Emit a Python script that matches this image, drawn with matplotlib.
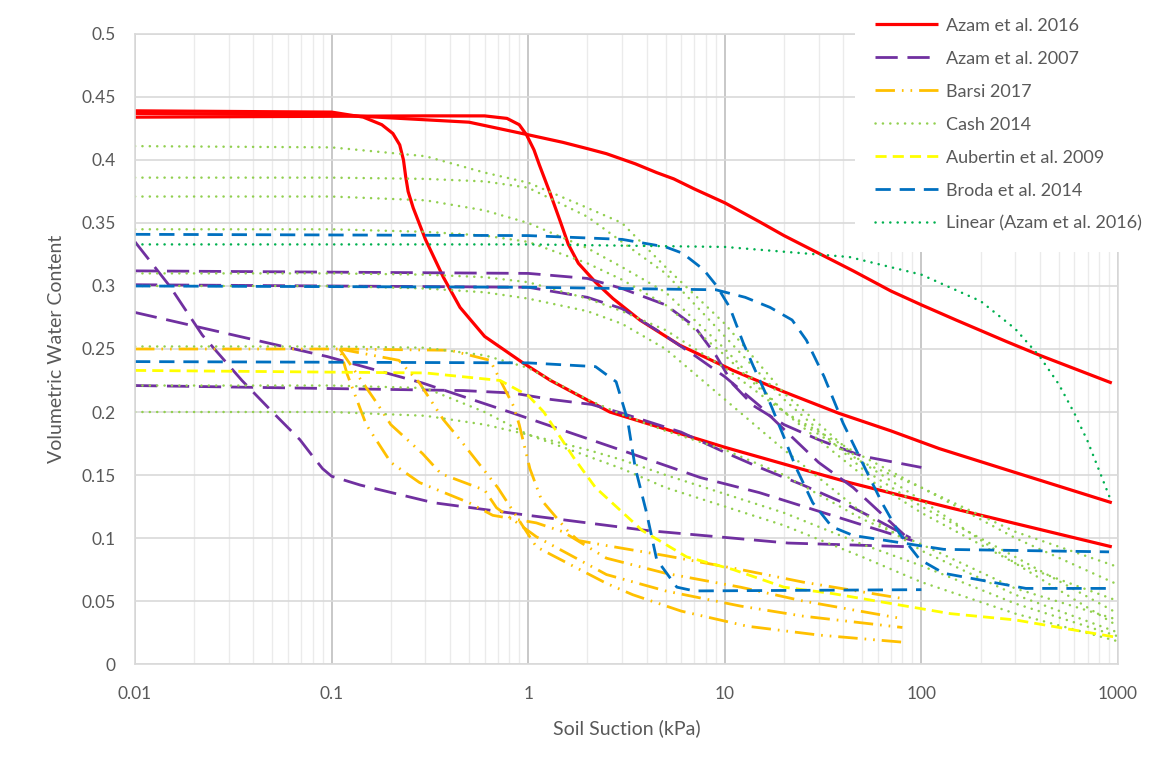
import matplotlib
matplotlib.use('Agg')
import matplotlib.pyplot as plt
from matplotlib.patches import Rectangle
from matplotlib.ticker import LogLocator, NullFormatter, FixedLocator

plt.rcParams['font.family'] = ['Lato', 'DejaVu Sans']

# ---- data (suction kPa, volumetric water content) ----
# Azam et al. 2016
az16_a_x = [0.01, 0.1, 0.145, 0.18, 0.205, 0.222, 0.232, 0.238, 0.245, 0.26, 0.3, 0.37, 0.45, 0.6, 0.94, 1.3, 2.6, 10, 43, 140, 930]
az16_a_y = [0.439, 0.438, 0.434, 0.428, 0.421, 0.412, 0.4, 0.387, 0.375, 0.362, 0.337, 0.307, 0.283, 0.26, 0.239, 0.225, 0.2, 0.172, 0.144, 0.124, 0.093]
az16_b_x = [0.01, 0.3, 0.6, 0.78, 0.9, 0.98, 1.07, 1.14, 1.29, 1.45, 1.6, 1.8, 2.2, 2.7, 3.7, 5.9, 11, 20, 38, 70, 123, 300, 930]
az16_b_y = [0.434, 0.435, 0.435, 0.433, 0.428, 0.42, 0.408, 0.396, 0.374, 0.352, 0.333, 0.318, 0.303, 0.29, 0.273, 0.253, 0.233, 0.216, 0.199, 0.185, 0.171, 0.152, 0.128]
az16_c_x = [0.01, 0.1, 0.5, 1, 1.5, 2, 2.5, 3.5, 4.5, 5.5, 7, 10, 15, 20, 30, 45, 70, 100, 150, 270, 400, 930]
az16_c_y = [0.437, 0.436, 0.43, 0.42, 0.414, 0.409, 0.405, 0.397, 0.39, 0.385, 0.377, 0.366, 0.351, 0.34, 0.326, 0.312, 0.296, 0.285, 0.273, 0.256, 0.245, 0.223]

# Azam et al. 2007
az07_a_x = [0.01, 0.015, 0.022, 0.035, 0.05, 0.069, 0.08, 0.09, 0.1, 0.14, 0.33, 1, 4, 21, 90]
az07_a_y = [0.335, 0.3, 0.261, 0.225, 0.2, 0.178, 0.165, 0.155, 0.149, 0.142, 0.128, 0.118, 0.106, 0.096, 0.093]
az07_b_x = [0.01, 1, 2, 3, 5, 7, 9, 11, 14, 20, 30, 50, 100]
az07_b_y = [0.312, 0.31, 0.306, 0.298, 0.285, 0.268, 0.245, 0.222, 0.205, 0.19, 0.178, 0.165, 0.156]
az07_c_x = [0.01, 1, 2, 3, 4.5, 7, 10, 15, 22, 30, 45, 60, 85]
az07_c_y = [0.301, 0.299, 0.291, 0.282, 0.265, 0.245, 0.228, 0.205, 0.18, 0.16, 0.14, 0.122, 0.1]
az07_d_x = [0.01, 0.095, 0.29, 0.84, 3.2, 7.5, 15, 35, 56, 90]
az07_d_y = [0.279, 0.244, 0.223, 0.199, 0.168, 0.148, 0.136, 0.118, 0.108, 0.098]
az07_e_x = [0.01, 0.47, 0.84, 1.3, 2.1, 3, 6, 10, 15, 25, 40, 60, 88]
az07_e_y = [0.221, 0.217, 0.215, 0.21, 0.206, 0.199, 0.184, 0.168, 0.156, 0.142, 0.128, 0.114, 0.1]

# Barsi 2017
barsi_a_x = [0.01, 0.11, 0.12, 0.15, 0.2, 0.28, 0.5, 0.66, 1.1, 1.5, 2.5, 5, 12, 25, 80]
barsi_a_y = [0.25, 0.25, 0.23, 0.19, 0.16, 0.144, 0.128, 0.118, 0.112, 0.105, 0.084, 0.072, 0.061, 0.05, 0.036]
barsi_b_x = [0.11, 0.17, 0.2, 0.29, 0.36, 0.6, 0.69, 1.1, 2.5, 5, 12, 25, 80]
barsi_b_y = [0.25, 0.207, 0.19, 0.167, 0.151, 0.138, 0.124, 0.101, 0.071, 0.058, 0.046, 0.038, 0.029]
barsi_c_x = [0.11, 0.22, 0.28, 0.37, 0.45, 0.7, 1.1, 1.3, 2.5, 3.4, 6, 13, 30, 85]
barsi_c_y = [0.25, 0.241, 0.223, 0.194, 0.178, 0.14, 0.093, 0.087, 0.064, 0.055, 0.042, 0.03, 0.023, 0.017]
barsi_d_x = [0.11, 0.4, 0.64, 0.69, 0.84, 0.9, 1.02, 1.17, 1.6, 1.8, 2.5, 5, 12, 25, 80]
barsi_d_y = [0.25, 0.249, 0.241, 0.231, 0.205, 0.19, 0.155, 0.13, 0.105, 0.098, 0.094, 0.086, 0.075, 0.065, 0.052]

# Cash 2014 (shared suction values)
cash_x = [0.01, 0.1, 0.3, 0.6, 1, 2, 3, 5, 10, 20, 50, 100, 300, 1000]
cash_1 = [0.411, 0.410, 0.403, 0.39, 0.382, 0.362, 0.35, 0.315, 0.27, 0.215, 0.16, 0.13, 0.08, 0.03]
cash_2 = [0.386, 0.386, 0.385, 0.383, 0.378, 0.355, 0.335, 0.31, 0.26, 0.21, 0.155, 0.125, 0.085, 0.04]
cash_3 = [0.371, 0.371, 0.368, 0.36, 0.35, 0.33, 0.315, 0.295, 0.25, 0.2, 0.15, 0.12, 0.08, 0.05]
cash_4 = [0.345, 0.345, 0.343, 0.34, 0.335, 0.318, 0.305, 0.285, 0.245, 0.2, 0.16, 0.14, 0.1, 0.063]
cash_5 = [0.31, 0.31, 0.309, 0.307, 0.303, 0.29, 0.28, 0.265, 0.235, 0.2, 0.165, 0.14, 0.105, 0.077]
cash_6 = [0.30, 0.30, 0.298, 0.295, 0.29, 0.28, 0.27, 0.25, 0.21, 0.17, 0.12, 0.09, 0.055, 0.025]
cash_7 = [0.252, 0.252, 0.251, 0.245, 0.235, 0.21, 0.198, 0.185, 0.17, 0.15, 0.115, 0.095, 0.06, 0.035]
cash_8 = [0.221, 0.221, 0.219, 0.2, 0.182, 0.17, 0.162, 0.15, 0.135, 0.12, 0.095, 0.078, 0.048, 0.022]
cash_9 = [0.2, 0.2, 0.197, 0.19, 0.182, 0.165, 0.155, 0.14, 0.125, 0.11, 0.085, 0.065, 0.04, 0.018]

# Aubertin et al. 2009
aub_x = [0.01, 0.3, 0.72, 1, 1.2, 1.7, 2.2, 3.8, 6.4, 11, 20, 35, 140, 300, 1000]
aub_y = [0.233, 0.231, 0.225, 0.213, 0.2, 0.164, 0.14, 0.106, 0.085, 0.075, 0.061, 0.056, 0.04, 0.035, 0.021]

# Broda et al. 2014
broda_a_x = [0.01, 1, 3, 5, 6.1, 7.8, 9.1, 10.6, 12.4, 14, 17, 20, 23, 28, 35, 45, 130, 900]
broda_a_y = [0.341, 0.34, 0.337, 0.331, 0.326, 0.313, 0.3, 0.283, 0.255, 0.236, 0.207, 0.18, 0.156, 0.128, 0.109, 0.102, 0.091, 0.089]
broda_b_x = [0.01, 1, 9, 12.7, 17, 22, 26, 32, 40, 50, 63, 77, 98, 130, 340, 900]
broda_b_y = [0.300, 0.299, 0.297, 0.291, 0.283, 0.273, 0.257, 0.228, 0.191, 0.16, 0.128, 0.104, 0.083, 0.072, 0.06, 0.06]
broda_c_x = [0.01, 1, 2.2, 2.8, 3.2, 3.5, 4, 4.5, 5.7, 7, 100]
broda_c_y = [0.24, 0.239, 0.236, 0.224, 0.194, 0.156, 0.12, 0.083, 0.061, 0.058, 0.059]

# Linear (Azam et al. 2016) trendline
lin_x = [0.01, 1, 10, 43, 100, 200, 300, 400, 500, 600, 700, 800, 930]
lin_y = [0.333, 0.333, 0.331, 0.323, 0.309, 0.288, 0.266, 0.244, 0.222, 0.199, 0.177, 0.154, 0.128]

series = [
    ("Azam et al. 2016", "#FF0000", 2.3, None,
     [(az16_a_x, az16_a_y), (az16_b_x, az16_b_y), (az16_c_x, az16_c_y)]),
    ("Azam et al. 2007", "#7030A0", 2.0, (8, 3.5),
     [(az07_a_x, az07_a_y), (az07_b_x, az07_b_y), (az07_c_x, az07_c_y),
      (az07_d_x, az07_d_y), (az07_e_x, az07_e_y)]),
    ("Barsi 2017", "#FFC000", 2.0, (7, 2.5, 0.6, 2.5, 0.6, 2.5),
     [(barsi_a_x, barsi_a_y), (barsi_b_x, barsi_b_y), (barsi_c_x, barsi_c_y), (barsi_d_x, barsi_d_y)]),
    ("Cash 2014", "#92D050", 1.8, (0.05, 2.9),
     [(cash_x, c) for c in [cash_1, cash_2, cash_3, cash_4, cash_5, cash_6, cash_7, cash_8, cash_9]]),
    ("Aubertin et al. 2009", "#FFFF00", 2.0, (4, 2.2),
     [(aub_x, aub_y)]),
    ("Broda et al. 2014", "#0070C0", 2.0, (5.5, 3.2),
     [(broda_a_x, broda_a_y), (broda_b_x, broda_b_y), (broda_c_x, broda_c_y)]),
    ("Linear (Azam et al. 2016)", "#00B050", 1.8, (0.05, 2.9),
     [(lin_x, lin_y)]),
]

fig = plt.figure(figsize=(11.63, 7.74), dpi=100)
ax = fig.add_axes([0.1161, 0.1421, 0.8452, 0.814])

for label, color, lw, dashes, curves in series:
    for i, (x, y) in enumerate(curves):
        kw = dict(color=color, lw=lw, label=label if i == 0 else None)
        if dashes is not None:
            kw['dashes'] = dashes
            kw['dash_capstyle'] = 'round' if dashes[0] < 1 else 'butt'
        else:
            kw['solid_capstyle'] = 'butt'
        kw['solid_joinstyle'] = 'round'
        ax.plot(x, y, **kw)

ax.set_xscale('log')
ax.set_xlim(0.01, 1000)
ax.set_ylim(0, 0.5)
ax.xaxis.set_major_locator(FixedLocator([0.01, 0.1, 1, 10, 100, 1000]))
ax.set_xticklabels(['0.01', '0.1', '1', '10', '100', '1000'])
ax.xaxis.set_minor_locator(LogLocator(base=10, subs=[2, 3, 4, 5, 6, 7, 8, 9]))
ax.xaxis.set_minor_formatter(NullFormatter())
yt = [0, 0.05, 0.1, 0.15, 0.2, 0.25, 0.3, 0.35, 0.4, 0.45, 0.5]
ax.set_yticks(yt)
ax.set_yticklabels(['0', '0.05', '0.1', '0.15', '0.2', '0.25', '0.3', '0.35', '0.4', '0.45', '0.5'])

ax.grid(which='minor', axis='x', color='#EBEBEB', lw=1)
ax.grid(which='major', axis='x', color='#BFBFBF', lw=1.2)
ax.grid(which='major', axis='y', color='#D9D9D9', lw=1.2)
ax.set_axisbelow(True)
for s in ax.spines.values():
    s.set_color('#D9D9D9')
    s.set_linewidth(1.2)

ax.tick_params(axis='both', which='both', length=0, colors='#595959', labelsize=12.5)
ax.tick_params(axis='x', pad=16)
ax.tick_params(axis='y', pad=14)
ax.set_xlabel('Soil Suction (kPa)', fontsize=14, color='#595959', labelpad=12)
ax.set_ylabel('Volumetric Water Content', fontsize=14, color='#595959', labelpad=12)

# legend sits on a white box over the top-right of the plot
fig.patches.append(Rectangle((0.735, 0.674), 0.27, 0.33, transform=fig.transFigure,
                             facecolor='white', edgecolor='none', zorder=3))
leg = fig.legend(loc='upper left', bbox_to_anchor=(0.752, 0.977), frameon=False,
                 fontsize=13, handlelength=3.5, handletextpad=0.45, labelspacing=0.94,
                 borderpad=0, borderaxespad=0)
leg.set_zorder(5)
for t in leg.get_texts():
    t.set_color('#595959')

fig.savefig('out.png', dpi=100)
